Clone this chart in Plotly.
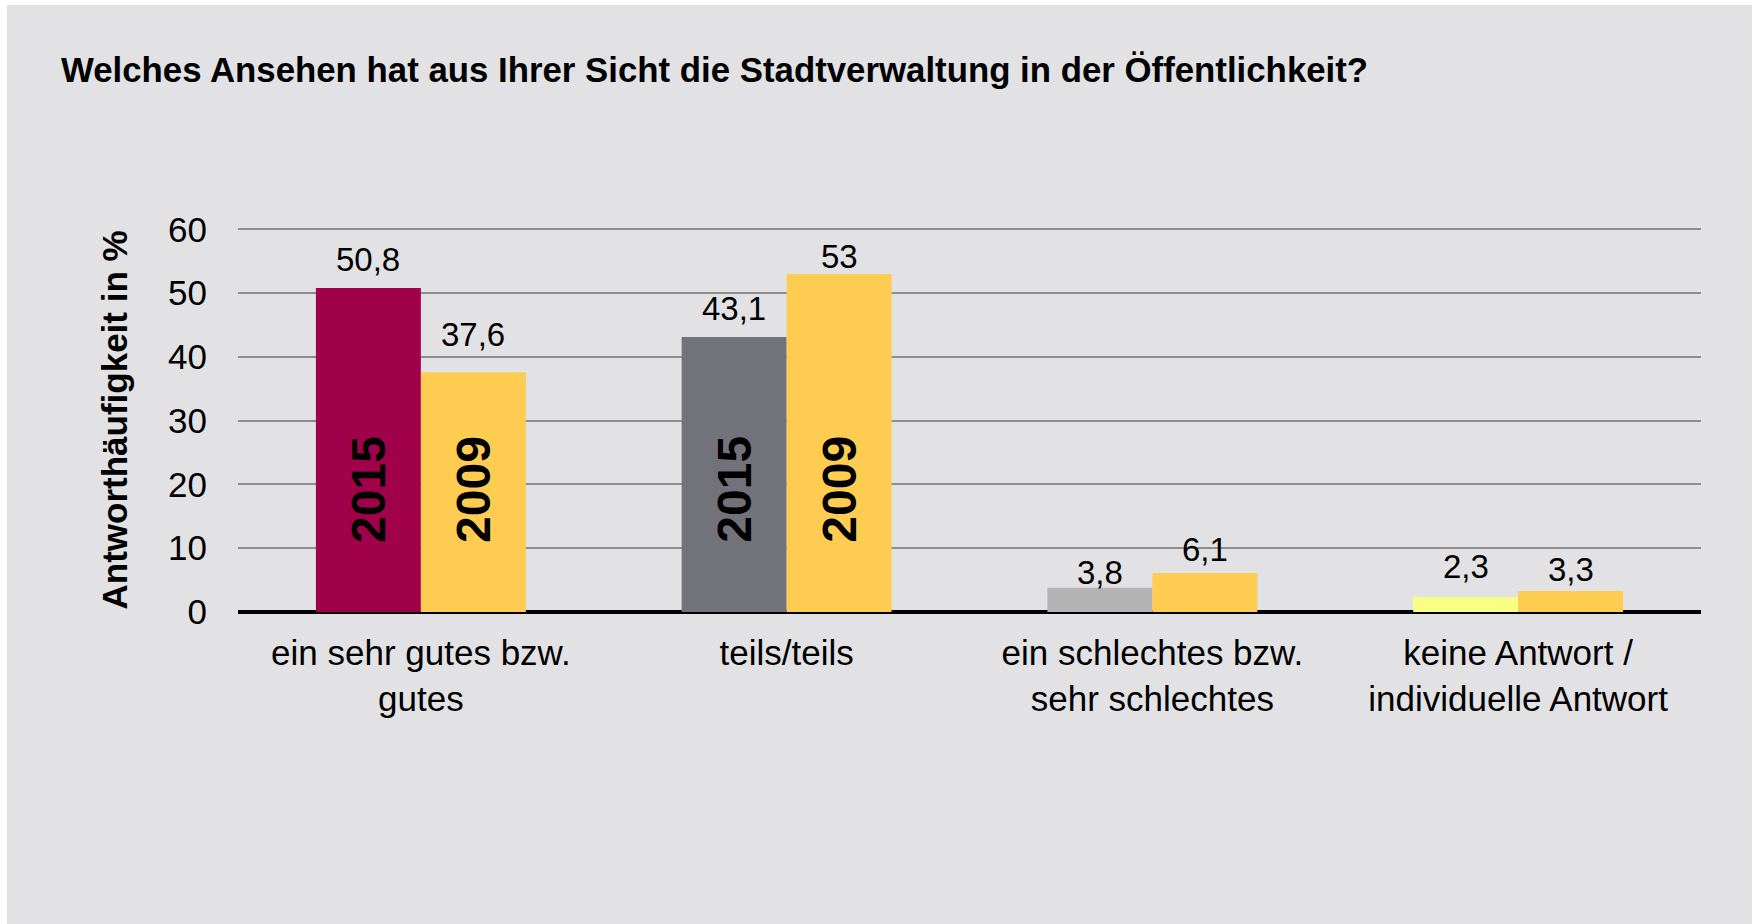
import plotly.graph_objects as go

# ---- data ----
categories = ["ein sehr gutes bzw.<br>gutes", "teils/teils",
              "ein schlechtes bzw.<br>sehr schlechtes", "keine Antwort /<br>individuelle Antwort"]
values_2015 = [50.8, 43.1, 3.8, 2.3]
values_2009 = [37.6, 53.0, 6.1, 3.3]
year_labels = ["2015", "2009"]
year_label_categories = ["ein sehr gutes bzw.<br>gutes", "teils/teils"]
year_label_level = 19.2
y_ticks = [0, 10, 20, 30, 40, 50, 60]

title_text = "Welches Ansehen hat aus Ihrer Sicht die Stadtverwaltung in der Öffentlichkeit?"
y_title = "Antworthäufigkeit in %"

# ---- style ----
colors_2015 = ["#A1004B", "#72727B", "#B3B3B3", "#F8FF82"]
color_2009 = "#FFCC52"
bg = "#E2E2E4"
FONT = "Liberation Sans, Arial, sans-serif"
# vertical gap (px) between bar top and the centre of its value label
label_gap_2015 = [28, 29, 15, 31]
label_gap_2009 = [38, 17, 24, 21]

W, H = 1756, 924
L, R, T, B = 238, 55, 228, 312
PW, PH = W - L - R, H - T - B
BARGAP = 0.426
Y_MAX = 60.2


def px_x(px):
    return (px - L) / PW


def px_y(py):
    return (H - B - py) / PH


def fmt(v):
    return f"{v:g}".replace(".", ",")


fig = go.Figure()
fig.add_trace(go.Bar(x=categories, y=values_2015, name="2015", offsetgroup="a",
                     marker=dict(color=colors_2015, line=dict(width=0)), hoverinfo="skip"))
fig.add_trace(go.Bar(x=categories, y=values_2009, name="2009", offsetgroup="b",
                     marker=dict(color=color_2009, line=dict(width=0)), hoverinfo="skip"))

bar_px = PW / len(categories) * (1 - BARGAP) / 2

# value labels above bars
for k, (vals, gaps) in enumerate(((values_2015, label_gap_2015), (values_2009, label_gap_2009))):
    for cat, v, g in zip(categories, vals, gaps):
        fig.add_annotation(x=cat, y=v, xref="x", yref="y", text=fmt(v), showarrow=False,
                           xanchor="center", yanchor="middle", xshift=(k - 0.5) * bar_px, yshift=g,
                           font=dict(family=FONT, size=33, color="#000000"))

# year labels inside the first two groups
for cat in year_label_categories:
    for i, lab in enumerate(year_labels):
        fig.add_annotation(x=cat, y=year_label_level, xref="x", yref="y", text=f"<b>{lab}</b>",
                           textangle=-90, showarrow=False, xshift=(i - 0.5) * bar_px,
                           font=dict(family=FONT, size=48, color="#000000"))

# title
fig.add_annotation(x=px_x(59), y=px_y(69), xref="paper", yref="paper", xanchor="left",
                   yanchor="middle", showarrow=False, text=f"<b>{title_text}</b>",
                   font=dict(family=FONT, size=34.8, color="#000000"))
# y axis title
fig.add_annotation(x=px_x(114), y=px_y(420.5), xref="paper", yref="paper", xanchor="center",
                   yanchor="middle", showarrow=False, text=f"<b>{y_title}</b>", textangle=-90,
                   font=dict(family=FONT, size=35, color="#000000"))

# gray panel with thin white border
fig.add_shape(type="rect", xref="paper", yref="paper", x0=px_x(7), x1=px_x(1752),
              y0=px_y(926), y1=px_y(5), fillcolor=bg, line=dict(width=0), layer="below")

fig.update_layout(
    width=W, height=H, margin=dict(l=L, r=R, t=T, b=B, autoexpand=False),
    paper_bgcolor="#FFFFFF", plot_bgcolor="rgba(0,0,0,0)",
    barmode="group", bargap=BARGAP, bargroupgap=0,
    showlegend=False, font=dict(family=FONT, color="#000000"),
)
fig.update_yaxes(range=[0, Y_MAX], tickvals=y_ticks, showgrid=True, gridcolor="#8E8E8E", gridwidth=2,
                 zeroline=True, zerolinecolor="#000000", zerolinewidth=4, showline=False,
                 ticks="", ticklabelstandoff=30, tickfont=dict(family=FONT, size=35, color="#000000"),
                 fixedrange=True)
fig.update_xaxes(showgrid=False, showline=False, ticks="", ticklabelstandoff=17,
                 tickfont=dict(family=FONT, size=35, color="#000000"), fixedrange=True)

fig.write_html("out.html", config={"displayModeBar": False},
               post_script="document.body.style.margin='0px';document.body.style.padding='0px';")
